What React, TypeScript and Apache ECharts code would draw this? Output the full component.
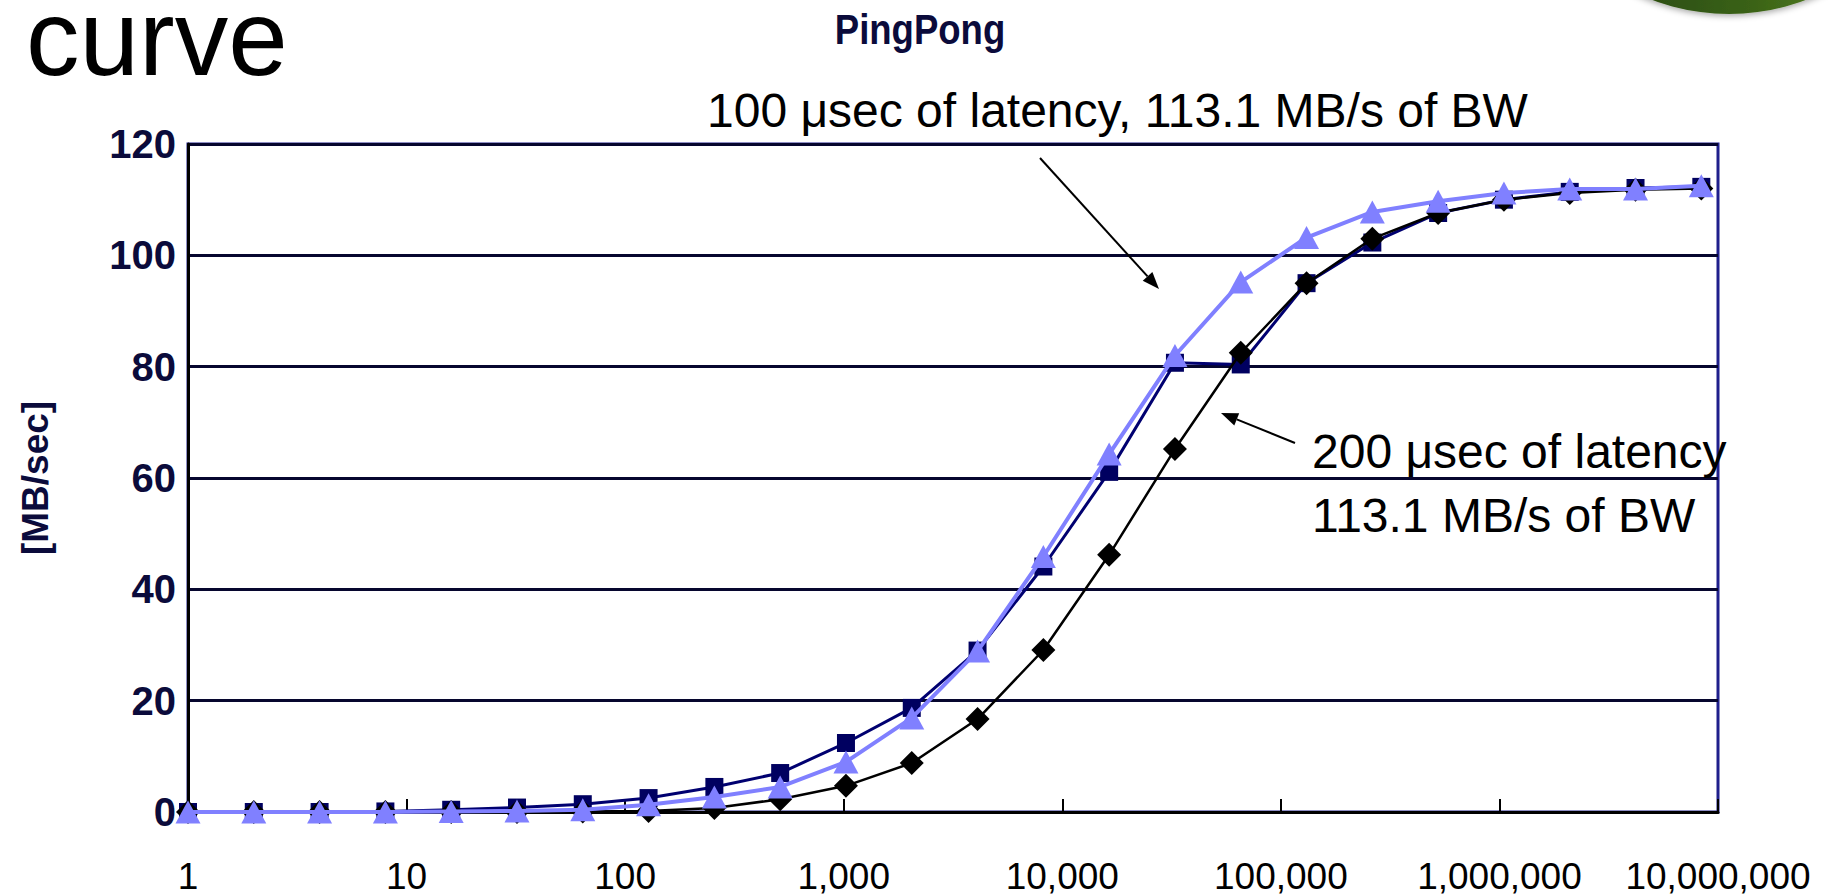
import React, { useEffect, useRef } from "react";
import * as echarts from "echarts";

// Message sizes (bytes), powers of two
const messageSizes = [
  1, 2, 4, 8, 16, 32, 64, 128, 256, 512, 1024, 2048, 4096, 8192, 16384, 32768,
  65536, 131072, 262144, 524288, 1048576, 2097152, 4194304, 8388608,
];

// Navy squares
const squareValues = [
  0, 0, 0, 0.1, 0.4, 0.8, 1.4, 2.5, 4.5, 7.0, 12.4, 18.7, 29.0, 44.1, 61.1,
  80.7, 80.4, 95.0, 102.3, 107.6, 110.0, 111.4, 112.1, 112.3,
];

// Light blue triangles
const triangleValues = [
  0, 0, 0, 0, 0.1, 0.2, 0.4, 1.3, 2.7, 4.5, 9.0, 16.9, 28.9, 45.9, 64.3, 82.0,
  95.2, 103.2, 107.8, 109.7, 111.2, 111.9, 111.9, 112.5,
];

// Black diamonds
const diamondValues = [
  0, 0, 0, 0, 0, 0, 0.1, 0.2, 0.7, 2.3, 4.7, 8.8, 16.7, 29.1, 46.2, 65.2, 82.5,
  95.0, 103.0, 107.6, 110.0, 111.2, 111.8, 112.0,
];

const xMin = 1;
const xMax = 10000000;
const yMin = 0;
const yMax = 120;
const yInterval = 20;

const titleText = "PingPong";
const yAxisName = "[MB/sec]";
const headingText = "curve";
const note1 = "100 \u03bcsec of latency, 113.1 MB/s of BW";
const note2a = "200 \u03bcsec of latency";
const note2b = "113.1 MB/s of BW";

const FONT = '"Liberation Sans", Arial, Helvetica, sans-serif';

function toPairs(values: number[]) {
  return messageSizes.map((s, i) => [s, values[i]]);
}

function arrow(x1: number, y1: number, x2: number, y2: number) {
  const dx = x2 - x1;
  const dy = y2 - y1;
  const len = Math.sqrt(dx * dx + dy * dy);
  const ux = dx / len;
  const uy = dy / len;
  const hl = 17;
  const hw = 6.5;
  const bx = x2 - ux * hl;
  const by = y2 - uy * hl;
  return [
    {
      type: "line",
      shape: { x1, y1, x2: bx, y2: by },
      style: { stroke: "#000", lineWidth: 2 },
      z: 20,
    },
    {
      type: "polygon",
      shape: {
        points: [
          [x2, y2],
          [bx - uy * hw, by + ux * hw],
          [bx + uy * hw, by - ux * hw],
        ],
      },
      style: { fill: "#000" },
      z: 20,
    },
  ];
}

export default function App() {
  const ref = useRef<HTMLDivElement>(null);

  useEffect(() => {
    document.body.style.margin = "0";
    if (!ref.current) return;
    const chart = echarts.init(ref.current, null, { renderer: "svg" });

    const option: any = {
      animation: false,
      backgroundColor: "#ffffff",
      grid: {
        left: 188,
        right: 118,
        top: 144,
        bottom: 84,
        show: true,
        borderColor: "#1f1f8c",
        borderWidth: 3,
        backgroundColor: "transparent",
      },
      xAxis: {
        type: "log",
        logBase: 10,
        min: xMin,
        max: xMax,
        axisLine: { show: true, lineStyle: { color: "#000000", width: 3 } },
        axisTick: {
          show: true,
          inside: true,
          length: 13,
          lineStyle: { color: "#000000", width: 2 },
        },
        minorTick: { show: false },
        splitLine: { show: false },
        axisLabel: {
          fontSize: 37,
          color: "#000000",
          fontFamily: FONT,
          margin: 46,
          formatter: (v: number) => Math.round(v).toLocaleString("en-US"),
        },
      },
      yAxis: {
        type: "value",
        min: yMin,
        max: yMax,
        interval: yInterval,
        name: yAxisName,
        nameLocation: "middle",
        nameRotate: 90,
        nameGap: 134,
        nameTextStyle: {
          fontSize: 37,
          fontWeight: "bold",
          color: "#0b0b3b",
          fontFamily: FONT,
        },
        axisLine: { show: true, lineStyle: { color: "#000000", width: 3 } },
        axisTick: { show: false },
        splitLine: { show: true, lineStyle: { color: "#06062e", width: 3 } },
        axisLabel: {
          fontSize: 40,
          fontWeight: "bold",
          color: "#0b0b3b",
          fontFamily: FONT,
          margin: 12,
        },
      },
      series: [
        {
          name: "squares",
          type: "line",
          data: toPairs(squareValues),
          symbol: "rect",
          symbolSize: 18,
          clip: false,
          lineStyle: { color: "#000070", width: 3 },
          itemStyle: { color: "#000060" },
          z: 2,
        },
        {
          name: "diamonds",
          type: "line",
          data: toPairs(diamondValues),
          symbol: "diamond",
          symbolSize: 24,
          clip: false,
          lineStyle: { color: "#000000", width: 2.5 },
          itemStyle: { color: "#000000" },
          z: 3,
        },
        {
          name: "triangles",
          type: "line",
          data: toPairs(triangleValues),
          symbol: "triangle",
          symbolSize: [25, 23],
          clip: false,
          lineStyle: { color: "#8080ff", width: 4 },
          itemStyle: { color: "#8080ff" },
          z: 4,
        },
      ],
      graphic: [
        {
          type: "circle",
          shape: { cx: 1729, cy: -205, r: 219 },
          style: {
            fill: new echarts.graphic.LinearGradient(0, 0, 1, 0, [
              { offset: 0, color: "#1a330a" },
              { offset: 0.55, color: "#3a6216" },
              { offset: 1, color: "#6e9e30" },
            ]),
            shadowBlur: 6,
            shadowColor: "rgba(0,0,0,0.35)",
            shadowOffsetY: 2,
          },
          z: 1,
        },
        {
          type: "text",
          x: 26,
          y: 38,
          style: {
            text: headingText,
            fontSize: 107,
            lineHeight: 60,
            fontFamily: FONT,
            fill: "#000000",
            textAlign: "left",
            textVerticalAlign: "middle",
          },
          z: 10,
        },
        {
          type: "text",
          x: 920,
          y: 29,
          scaleX: 0.87,
          style: {
            text: titleText,
            x: 0,
            y: 0,
            fontSize: 42,
            fontWeight: "bold",
            fontFamily: FONT,
            fill: "#0b0b3b",
            textAlign: "center",
            textVerticalAlign: "middle",
          },
          z: 10,
        },
        {
          type: "text",
          x: 707,
          y: 110,
          style: {
            text: note1,
            fontSize: 48,
            fontFamily: FONT,
            fill: "#000000",
            textAlign: "left",
            textVerticalAlign: "middle",
          },
          z: 10,
        },
        {
          type: "text",
          x: 1312,
          y: 451,
          style: {
            text: note2a,
            fontSize: 48,
            fontFamily: FONT,
            fill: "#000000",
            textAlign: "left",
            textVerticalAlign: "middle",
          },
          z: 10,
        },
        {
          type: "text",
          x: 1312,
          y: 515,
          style: {
            text: note2b,
            fontSize: 48,
            fontFamily: FONT,
            fill: "#000000",
            textAlign: "left",
            textVerticalAlign: "middle",
          },
          z: 10,
        },
        ...arrow(1040, 158, 1159, 289),
        ...arrow(1295, 443, 1221, 413),
      ],
    };

    chart.setOption(option);
    return () => {
      chart.dispose();
    };
  }, []);

  return <div ref={ref} style={{ width: 1836, height: 896 }} />;
}
